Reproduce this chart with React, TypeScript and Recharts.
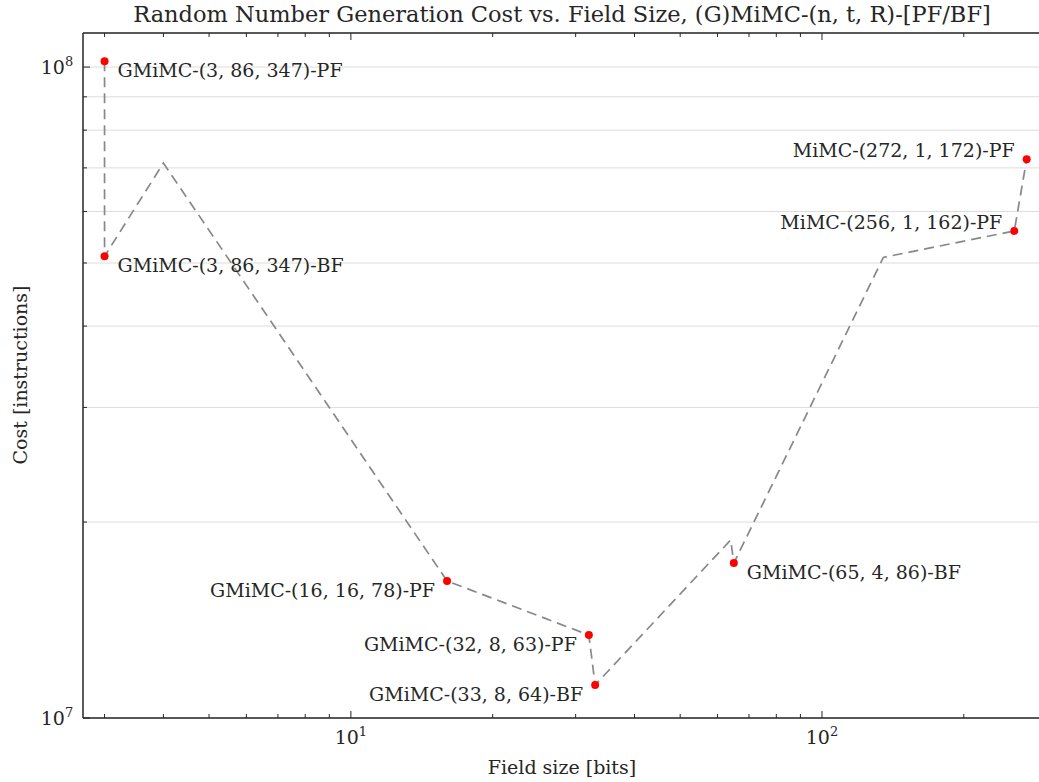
import React from "react";
import { ComposedChart, Line, Scatter, XAxis, YAxis, CartesianGrid } from "recharts";

// dashed path through all measured configurations (bits, instructions)
const pathBits = [3, 3, 4, 16, 32, 33, 64, 65, 135, 256, 272];
const pathCost = [1.021e8, 5.12e7, 7.12e7, 1.624e7, 1.341e7, 1.124e7, 1.877e7, 1.73e7, 5.1e7, 5.6e7, 7.22e7];

// annotated points
const pointNames = [
  "GMiMC-(3, 86, 347)-PF",
  "GMiMC-(3, 86, 347)-BF",
  "GMiMC-(16, 16, 78)-PF",
  "GMiMC-(32, 8, 63)-PF",
  "GMiMC-(33, 8, 64)-BF",
  "GMiMC-(65, 4, 86)-BF",
  "MiMC-(256, 1, 162)-PF",
  "MiMC-(272, 1, 172)-PF",
];
const pointBits = [3, 3, 16, 32, 33, 65, 256, 272];
const pointCost = [1.021e8, 5.12e7, 1.624e7, 1.341e7, 1.124e7, 1.73e7, 5.6e7, 7.22e7];

const xTicks = [3, 4, 5, 6, 7, 8, 9, 10, 20, 30, 40, 50, 60, 70, 80, 90, 100, 200];
const xMajor = [10, 100];
const xMajorLabels = ["1", "2"];
const yTicks = [1e7, 2e7, 3e7, 4e7, 5e7, 6e7, 7e7, 8e7, 9e7, 1e8];
const yMajor = [1e7, 1e8];
const yMajorLabels = ["7", "8"];

const pathData = pathBits.map((bits, i) => ({ bits, cost: pathCost[i] }));
const pointData = pointBits.map((bits, i) => ({ bits, cost: pointCost[i], name: pointNames[i] }));

// label placement relative to each dot (matplotlib-style annotation offsets)
const labelSide = ["right", "right", "left", "left", "left", "right", "leftUp", "leftUp"];

const FONT = "'DejaVu Serif', serif";
const INK = "#262626";

const BottomTick = (props: any) => {
  const { x, y, payload } = props;
  const k = xMajor.indexOf(payload.value);
  const len = k >= 0 ? 7 : 4;
  return (
    <g>
      <line x1={x} y1={y} x2={x} y2={y - len} stroke={INK} strokeWidth={1} />
      {k >= 0 && (
        <text x={x} y={y + 26} textAnchor="middle" fontFamily={FONT} fontSize={19} fill={INK}>
          10<tspan dy={-8} fontSize={13}>{xMajorLabels[k]}</tspan>
        </text>
      )}
    </g>
  );
};

const TopTick = (props: any) => {
  const { x, y, payload } = props;
  const len = xMajor.includes(payload.value) ? 7 : 4;
  return <line x1={x} y1={y} x2={x} y2={y + len} stroke={INK} strokeWidth={1} />;
};

const LeftTick = (props: any) => {
  const { x, y, payload } = props;
  const k = yMajor.indexOf(payload.value);
  const len = k >= 0 ? 7 : 4;
  return (
    <g>
      <line x1={x} y1={y} x2={x + len} y2={y} stroke={INK} strokeWidth={1} />
      {k >= 0 && (
        <text x={x - 26} y={y + 7} textAnchor="middle" fontFamily={FONT} fontSize={19} fill={INK}>
          10<tspan dy={-8} fontSize={13}>{yMajorLabels[k]}</tspan>
        </text>
      )}
    </g>
  );
};

const Dot = (props: any) => {
  const { cx, cy, payload } = props;
  const i = pointNames.indexOf(payload.name);
  const side = labelSide[i];
  const dx = side === "right" ? 13 : -12;
  const dy = side === "leftUp" ? -2 : 16;
  return (
    <g>
      <circle cx={cx} cy={cy} r={4} fill="#ff0000" />
      <text
        x={cx + dx}
        y={cy + dy}
        textAnchor={side === "right" ? "start" : "end"}
        fontFamily={FONT}
        fontSize={19}
        fill={INK}
      >
        {payload.name}
      </text>
    </g>
  );
};

export default function App() {
  return (
    <div style={{ position: "absolute", left: 0, top: 0, width: 1039, height: 782, overflow: "hidden", background: "#fff" }}>
      <div
        style={{
          position: "absolute", left: 0, top: 1, width: 1124, textAlign: "center",
          fontFamily: FONT, fontSize: 22.5, color: INK, whiteSpace: "nowrap",
        }}
      >
        Random Number Generation Cost vs. Field Size, (G)MiMC-(n, t, R)-[PF/BF]
      </div>
      <div
        style={{
          position: "absolute", left: 0, top: 756, width: 1124, textAlign: "center",
          fontFamily: FONT, fontSize: 19, color: INK, whiteSpace: "nowrap",
        }}
      >
        Field size [bits]
      </div>
      <div
        style={{
          position: "absolute", left: 20, top: 375, transform: "translate(-50%, -50%) rotate(-90deg)",
          fontFamily: FONT, fontSize: 19, color: INK, whiteSpace: "nowrap",
        }}
      >
        Cost [instructions]
      </div>
      <div style={{ position: "absolute", left: 0, top: 0 }}>
        <ComposedChart width={1045} height={782} margin={{ top: 0, right: 4, bottom: 0, left: 0 }}>
          <CartesianGrid xAxisId="b" vertical={false} stroke="#dcdcdc" strokeWidth={1} />
          <XAxis
            xAxisId="b"
            type="number"
            dataKey="bits"
            scale="log"
            domain={[2.7, 291.7]}
            allowDataOverflow
            ticks={xTicks}
            interval={0}
            height={64}
            tickSize={0}
            tickMargin={0}
            tick={<BottomTick />}
            axisLine={{ stroke: INK, strokeWidth: 1.5 }}
          />
          <XAxis
            xAxisId="t"
            orientation="top"
            type="number"
            dataKey="bits"
            scale="log"
            domain={[2.7, 291.7]}
            allowDataOverflow
            ticks={xTicks}
            interval={0}
            height={33}
            tickSize={0}
            tickMargin={0}
            tick={<TopTick />}
            axisLine={{ stroke: INK, strokeWidth: 1.5 }}
          />
          <YAxis
            type="number"
            dataKey="cost"
            scale="log"
            domain={[1e7, 1.128e8]}
            allowDataOverflow
            ticks={yTicks}
            interval={0}
            width={83}
            tickSize={0}
            tickMargin={0}
            tick={<LeftTick />}
            axisLine={{ stroke: INK, strokeWidth: 1.5 }}
          />
          <Line
            xAxisId="b"
            data={pathData}
            dataKey="cost"
            stroke="#888888"
            strokeWidth={1.7}
            strokeDasharray="10 6"
            dot={false}
            activeDot={false}
            isAnimationActive={false}
          />
          <Scatter xAxisId="b" data={pointData} dataKey="cost" shape={<Dot />} isAnimationActive={false} />
        </ComposedChart>
      </div>
    </div>
  );
}
